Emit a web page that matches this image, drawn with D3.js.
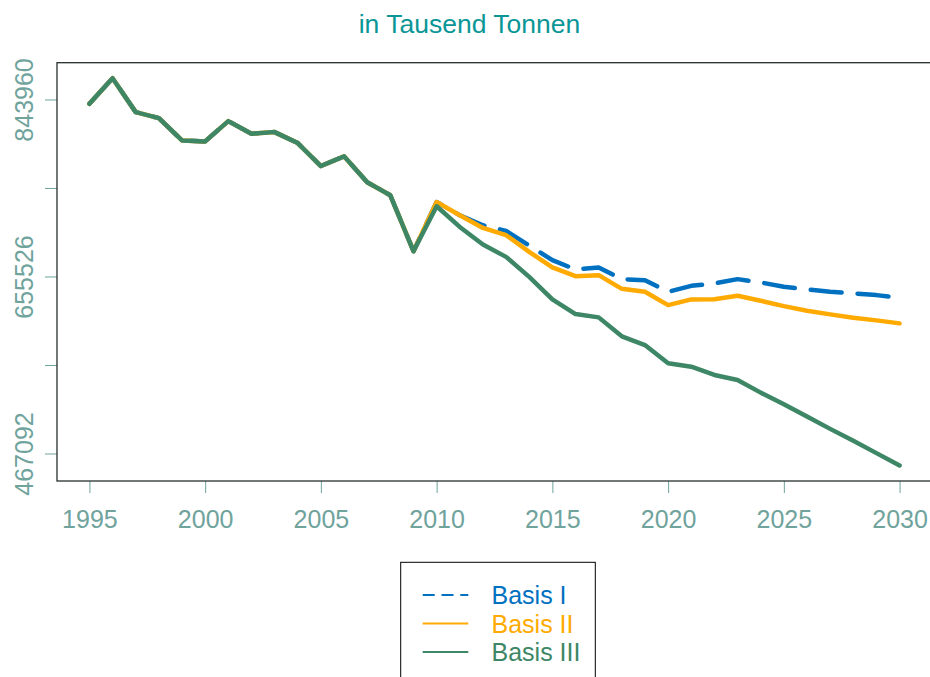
<!DOCTYPE html>
<html>
<head>
<meta charset="utf-8">
<script src="https://cdn.jsdelivr.net/npm/d3@7"></script>
<style>
  body { margin: 0; background: #fff; }
  text { font-family: "Liberation Sans", Arial, sans-serif; }
</style>
</head>
<body>
<div id="chart"></div>
<script>
// years on the x axis
var years = d3.range(1995, 2031)

// history 1995-2009 is shared by all three scenarios
var pastValues = [839391, 866593, 830465, 824090, 800393, 799330, 820902, 807513,
                  809213, 797525, 773085, 783392, 755765, 741951, 682447]

// 2010-2030 per scenario
var basis1 = [734831, 720698, 710072, 704016, 688502, 672881, 662999, 665124,
              652692, 651629, 639197, 645573, 648123, 652692, 649185, 644510,
              641747, 639197, 637497, 635689, 632821]
var basis2 = [734831, 720698, 707203, 699446, 681701, 665124, 655880, 656942,
              642385, 639197, 625064, 631121, 631300, 634947, 629634, 624002,
              619008, 615182, 611570, 608807, 605619]
var basis3 = [730262, 708266, 689564, 676388, 655136, 631121, 615501, 611994,
              591805, 582560, 563115, 559503, 550682, 545369, 531875, 519549,
              506372, 493302, 480551, 467481, 454305]

var seriesNames = ["Basis I", "Basis II", "Basis III"]
var seriesColors = ["#0070C0", "#FFAA00", "#3D8766"]

var yTicks = [467092, 561309, 655526, 749743, 843960]
var xTicks = [1995, 2000, 2005, 2010, 2015, 2020, 2025, 2030]

var width = 930, height = 677
var plotLeft = 57, plotRight = 932, plotTop = 62.7, plotBottom = 481

var svg = d3.select("#chart").append("svg")
  .attr("width", width)
  .attr("height", height)

var allSeries = [basis1, basis2, basis3].map(function(s) {
  return pastValues.concat(s).map(function(v, i) { return {year: years[i], value: v} })
})

// R style 4% padding on both axes
var allValues = pastValues.concat(basis1, basis2, basis3)
var yMin = d3.min(allValues), yMax = d3.max(allValues)
var yPad = (yMax - yMin) * 0.04
var xPad = (2030 - 1995) * 0.04

var xScale = d3.scaleLinear()
  .domain([1995 - xPad, 2030 + xPad])
  .range([plotLeft, plotRight])

var yScale = d3.scaleLinear()
  .domain([yMin - yPad, yMax + yPad])
  .range([plotBottom, plotTop])

var tickColor = "#6FA39C"

// title
svg.append("text")
  .attr("x", 469.5)
  .attr("y", 33)
  .attr("text-anchor", "middle")
  .style("font-size", "26.5px")
  .style("fill", "#0A9696")
  .text("in Tausend Tonnen")

// x axis
var xAxis = svg.append("g")
  .attr("transform", "translate(0," + plotBottom + ")")
  .call(d3.axisBottom(xScale).tickValues(xTicks).tickFormat(d3.format("d")).tickSize(12).tickPadding(17))
xAxis.select(".domain").remove()
xAxis.selectAll("line").style("stroke", tickColor).style("stroke-width", 1)
xAxis.selectAll("text")
  .style("font-size", "25px")
  .style("fill", tickColor)
  .style("font-family", "'Liberation Sans', Arial, sans-serif")

// y axis, R drops the labels that would overlap
var yAxis = svg.append("g")
  .attr("transform", "translate(" + plotLeft + ",0)")
  .call(d3.axisLeft(yScale).tickValues(yTicks).tickSize(12).tickFormat(function(d, i) {
    return i % 2 == 0 ? d : ""
  }))
yAxis.select(".domain").remove()
yAxis.selectAll("line").style("stroke", tickColor).style("stroke-width", 1)
yAxis.selectAll("text")
  .attr("x", null)
  .attr("dy", null)
  .attr("transform", "translate(-24,0) rotate(-90)")
  .attr("text-anchor", "middle")
  .style("font-size", "25px")
  .style("fill", tickColor)
  .style("font-family", "'Liberation Sans', Arial, sans-serif")

// plot frame
svg.append("rect")
  .attr("x", plotLeft)
  .attr("y", plotTop)
  .attr("width", plotRight - plotLeft)
  .attr("height", plotBottom - plotTop)
  .style("fill", "none")
  .style("stroke", "#25302E")
  .style("stroke-width", 1.3)

var line = d3.line()
  .x(function(d) { return xScale(d.year) })
  .y(function(d) { return yScale(d.value) })

for (var i = 0; i < allSeries.length; i++) {
  svg.append("path")
    .datum(allSeries[i])
    .attr("d", line)
    .style("fill", "none")
    .style("stroke", seriesColors[i])
    .style("stroke-width", 4.5)
    .style("stroke-linecap", "round")
    .style("stroke-linejoin", "round")
    .style("stroke-dasharray", i == 0 ? "31,16" : null)
}

// legend
svg.append("rect")
  .attr("x", 400.7)
  .attr("y", 562.3)
  .attr("width", 194.6)
  .attr("height", 130)
  .style("fill", "#fff")
  .style("stroke", "#000")
  .style("stroke-width", 1)

for (var j = 0; j < seriesNames.length; j++) {
  var ly = 595 + j * 28.5
  svg.append("line")
    .attr("x1", 422.7)
    .attr("x2", 468.3)
    .attr("y1", ly)
    .attr("y2", ly)
    .style("stroke", seriesColors[j])
    .style("stroke-width", 2)
    .style("stroke-dasharray", j == 0 ? "12,6.8" : null)

  svg.append("text")
    .attr("x", 491.5)
    .attr("y", ly + 9)
    .style("font-size", "25px")
    .style("fill", seriesColors[j])
    .text(seriesNames[j])
}
</script>
</body>
</html>
